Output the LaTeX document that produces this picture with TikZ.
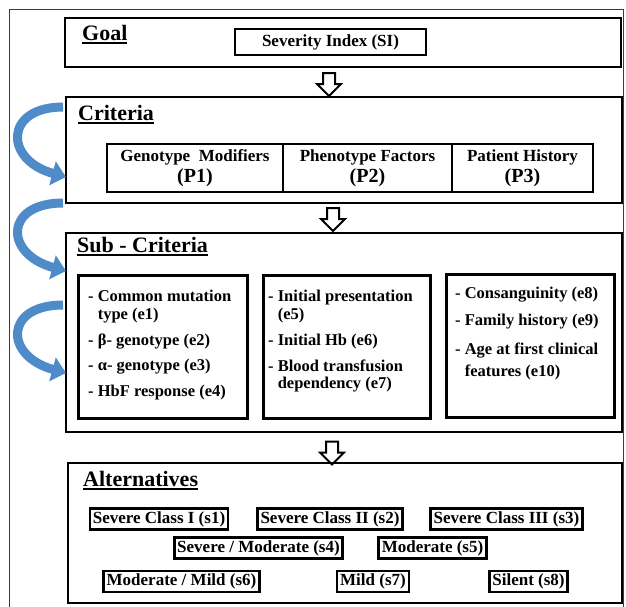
\documentclass[tikz,border=0pt]{standalone}
\usepackage{fontspec}
\setmainfont{Liberation Serif}
\usepackage{xcolor}
\definecolor{curveblue}{HTML}{4F8BC9}
\definecolor{framegrey}{HTML}{3A3A3A}
\usepackage{tikz}
\usetikzlibrary{shapes, arrows.meta, positioning}

\newcommand{\ultitle}[1]{\setbox0\hbox{#1}\rlap{\rule[-3.8pt]{\wd0}{1.8pt}}\box0}
\newcommand{\fsz}[1]{\fontsize{#1}{#1}\selectfont}

\begin{document}
\begin{tikzpicture}[x=1pt, y=-1pt, font=\bfseries\fontsize{17}{19}\selectfont,
    level/.style={draw, line width=2.4pt, outer sep=0pt, inner sep=0pt},
    cellbox/.style={draw, line width=2.4pt, outer sep=0pt, inner sep=0pt, minimum height=48pt, align=center},
    subbox/.style={draw, line width=3pt, minimum width=168pt, minimum height=143pt},
    subtext/.style={anchor=north west, align=left, inner sep=0pt, font=\bfseries\fontsize{16.5}{17.5}\selectfont},
    altbox/.style={draw, line width=2.6pt, minimum height=21pt, inner xsep=3pt, inner ysep=0pt},
    heading/.style={anchor=base west, inner sep=0pt, font=\bfseries\fontsize{22}{22}\selectfont},
    downarrow/.style={single arrow, draw, line width=2pt, fill=white, rotate=-90, minimum height=23pt, minimum width=22pt, single arrow head extend=6pt, inner sep=5pt},
    curvearrow/.style={line width=9pt, curveblue, -{Triangle[length=14pt, width=24pt]}}
]
    \clip (0,0) rectangle (626,606);

    % Outer frame (runs off the bottom)
    \node[draw, framegrey, line width=1pt, minimum width=614pt, minimum height=640pt, anchor=north west, inner sep=0pt] (frame) at (9,9) {};

    % Goal
    \node[level, minimum width=556pt, minimum height=49pt] (goal) at (343,42.5) {};
    \node[heading] (goaltitle) at (82,40) {\ultitle{Goal}};
    \node[draw, line width=2.2pt, minimum width=191pt, minimum height=26pt, inner sep=0pt] (si) at (330.5,42) {Severity Index (SI)};

    \node[downarrow] (arr1) at (329,81.5) {};

    % Criteria
    \node[level, minimum width=556pt, minimum height=106pt] (crit) at (344,150) {};
    \node[heading] (crittitle) at (78,120) {\ultitle{Criteria}};
    \node[cellbox, minimum width=176pt] (p1) at (195,168) {Genotype\ \ Modifiers\\[1.5pt]{\fsz{20}(P1)}};
    \node[cellbox, minimum width=169pt, right=0pt of p1] (p2) {Phenotype Factors\\[1.5pt]{\fsz{20}(P2)}};
    \node[cellbox, minimum width=141pt, right=0pt of p2] (p3) {Patient History\\[1.5pt]{\fsz{20}(P3)}};

    \node[downarrow] (arr2) at (333,216.5) {};

    % Sub-criteria
    \node[level, minimum width=556pt, minimum height=199pt] (sub) at (344,332.5) {};
    \node[heading] (subtitle) at (77,252) {\ultitle{Sub - Criteria}};

    \node[subbox, minimum width=169pt] (ebox1) at (162.5,346.5) {};
    \node[subbox, minimum width=167pt] (ebox2) at (346.5,346.5) {};
    \node[subbox] (ebox3) at (530,345.5) {};

    \node[subtext] (etext1) at (88,290) {- Common mutation\\
        \phantom{- }type (e1)\\[8.5pt]
        - β- genotype (e2)\\[8pt]
        - α- genotype (e3)\\[8.5pt]
        - HbF response (e4)};
    \node[subtext] (etext2) at (268,290) {- Initial presentation\\
        \phantom{- }(e5)\\[8.5pt]
        - Initial Hb (e6)\\[8.5pt]
        - Blood transfusion\\
        \phantom{- }dependency (e7)};
    \node[subtext] (etext3) at (455,287) {- Consanguinity (e8)\\[9.5pt]
        - Family history (e9)\\[11pt]
        - Age at first clinical\\[5pt]
        \phantom{- }features (e10)};

    \node[downarrow] (arr3) at (332,450) {};

    % Alternatives
    \node[level, minimum width=554pt, minimum height=140pt] (alt) at (345,533) {};
    \node[heading] (alttitle) at (83,486) {\ultitle{Alternatives}};

    \node[altbox] (s1) at (159,519) {Severe Class I (s1)};
    \node[altbox] (s2) at (330,519) {Severe Class II (s2)};
    \node[altbox] (s3) at (506.5,519) {Severe Class III (s3)};
    \node[altbox] (s4) at (258.5,548) {Severe / Moderate (s4)};
    \node[altbox] (s5) at (432.5,548) {Moderate (s5)};
    \node[altbox] (s6) at (181.5,581.5) {Moderate / Mild (s6)};
    \node[altbox] (s7) at (373,581.5) {Mild (s7)};
    \node[altbox] (s8) at (528.5,581.5) {Silent (s8)};

    % Curved arrows on the left
    \coordinate (c1a) at (63,107);
    \coordinate (c1b) at (66,177);
    \coordinate (c2a) at (63,203);
    \coordinate (c2b) at (66,271);
    \coordinate (c3a) at (63,305);
    \coordinate (c3b) at (66,373);
    \draw[curvearrow] (c1a) .. controls (4,107) and (4,160) .. (c1b);
    \draw[curvearrow] (c2a) .. controls (4,203) and (4,254) .. (c2b);
    \draw[curvearrow] (c3a) .. controls (4,305) and (4,356) .. (c3b);
\end{tikzpicture}
\end{document}
